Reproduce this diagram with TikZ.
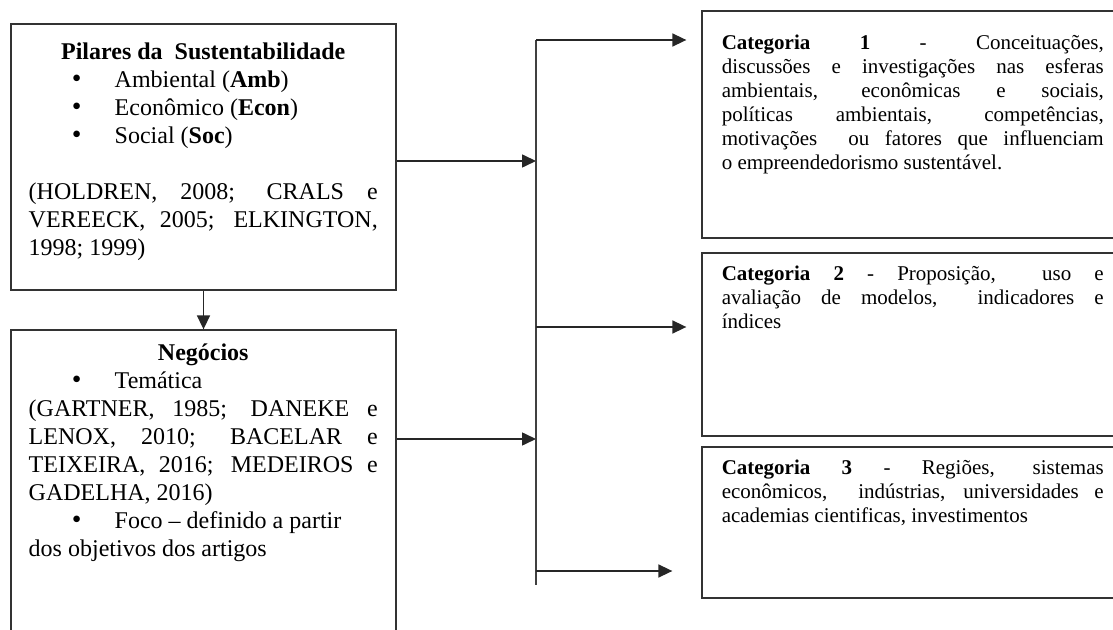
\documentclass[tikz,border=0pt]{standalone}
\usepackage{fontspec}
\setmainfont{Liberation Serif}
\usetikzlibrary{arrows.meta,positioning,calc}
\newcommand{\marcador}[1]{\hspace*{21.5pt}\makebox[21.5pt][l]{\scalebox{1.15}{\textbullet}}#1}
\tikzset{
  caixa/.style={rectangle, draw=black!80, line width=0.65pt, inner sep=0pt},
  textoesq/.style={anchor=north west, inner sep=0pt, text width=174.5pt, align=justify,
    font=\fontsize{12}{14}\selectfont},
  textodir/.style={anchor=north west, inner sep=0pt, text width=191pt, align=justify,
    font=\fontsize{10.5}{12}\selectfont},
  fluxo/.style={-{Triangle[length=7pt, width=6.5pt]}, line width=0.8pt, draw=black!85},
  tronco/.style={line width=0.8pt, draw=black!75},
}
\begin{document}
\begin{tikzpicture}[x=0.5pt, y=-0.5pt]
  \useasboundingbox (0,0) rectangle (1113,630);
  \clip (0,0) rectangle (1113,630);
  % caixas da esquerda
  \node[caixa, minimum width=192.5pt, minimum height=133pt] (pilares) at (203.5,157) {};
  \node[caixa, minimum width=192.5pt, minimum height=170pt] (negocios) at (203.5,500) {};
  % caixas das categorias
  \node[caixa, minimum width=214pt, minimum height=113.5pt] (cat1) at (916,124.5) {};
  \node[caixa, minimum width=214pt, minimum height=91.5pt] (cat2) at (916,344.5) {};
  \node[caixa, minimum width=214pt, minimum height=75.5pt] (cat3) at (916,522.5) {};
  % textos
  \node[textoesq] (pilaresT) at ([shift={(18,19)}]pilares.north west) {%
    \centerline{\textbf{Pilares da\ \ Sustentabilidade}}
    \marcador{Ambiental (\textbf{Amb})}\par
    \marcador{Econômico (\textbf{Econ})}\par
    \marcador{Social (\textbf{Soc})}\par
    \mbox{}\par
    (HOLDREN, 2008; CRALS e\linebreak VEREECK, 2005; ELKINGTON,\linebreak 1998; 1999)};
  \node[textoesq] (negociosT) at ([shift={(18,14)}]negocios.north west) {%
    \centerline{\textbf{Negócios}}
    \marcador{Temática}\par
    (GARTNER, 1985; DANEKE e\linebreak LENOX, 2010; BACELAR e\linebreak
    TEIXEIRA, 2016; MEDEIROS e\linebreak GADELHA, 2016)\par
    \marcador{Foco -- definido a partir}\newline dos objetivos dos artigos};
  \node[textodir] (cat1T) at ([shift={(20,24)}]cat1.north west) {%
    \textbf{Categoria 1} - Conceituações,\linebreak discussões e investigações nas esferas\linebreak
    ambientais, econômicas e sociais,\linebreak políticas ambientais, competências,\linebreak
    motivações\ \ ou fatores que influenciam\linebreak o empreendedorismo sustentável.};
  \node[textodir] (cat2T) at ([shift={(20,13)}]cat2.north west) {%
    \textbf{Categoria 2} - Proposição,\ \ uso e\linebreak avaliação de modelos,\ \ indicadores e\linebreak índices};
  \node[textodir] (cat3T) at ([shift={(20,13)}]cat3.north west) {%
    \textbf{Categoria 3} - Regiões, sistemas\linebreak econômicos,\ \ indústrias, universidades e\linebreak
    academias cientificas, investimentos};
  % conectores
  \coordinate (j1) at (536,161);
  \coordinate (j2) at (536,439);
  \coordinate (topo) at (536,40);
  \coordinate (meio) at (536,327);
  \coordinate (base) at (536,571);
  \coordinate (fim) at (536,585);
  \draw[fluxo] (pilares.south) -- (negocios.north);
  \draw[fluxo] (pilares.east |- j1) -- (j1);
  \draw[fluxo] (negocios.east |- j2) -- (j2);
  \draw[tronco] (topo) -- (fim);
  \draw[fluxo, shorten >=7.5pt] (topo) -- (topo -| cat1.west);
  \draw[fluxo, shorten >=7.5pt] (meio) -- (meio -| cat2.west);
  \draw[fluxo, shorten >=14.5pt] (base) -- (base -| cat3.west);
\end{tikzpicture}
\end{document}
